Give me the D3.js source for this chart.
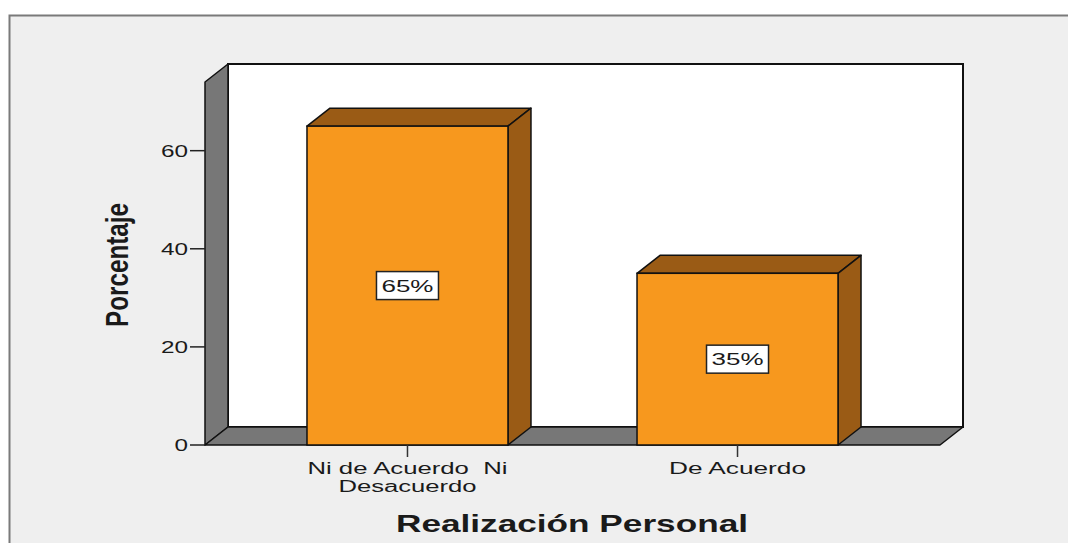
<!DOCTYPE html>
<html>
<head>
<meta charset="utf-8">
<script src="https://cdn.jsdelivr.net/npm/d3@7"></script>
<style>
  html, body { margin: 0; padding: 0; background: #ffffff; }
  svg { display: block; }
  text { font-family: "Liberation Sans", Arial, sans-serif; fill: #1a1a1a; }
</style>
</head>
<body>
<svg id="chart"></svg>
<script>
// chart data
var categories = ["Ni de Acuerdo  Ni|Desacuerdo", "De Acuerdo"];
var values = [65, 35];
var valueLabels = ["65%", "35%"];
var yTicks = [0, 20, 40, 60];
var yTitle = "Porcentaje";
var xTitle = "Realización Personal";

// set the SVG dimensions
var width = 1068;
var height = 543;

// front plane of the 3d box and its depth offset
var plotLeft = 205, plotRight = 940, plotBottom = 445, plotTop = 82;
var depthX = 23, depthY = 18;
var yMax = 74;

var colors = {
    bg: "#efefef",
    wall: "#777777",
    front: "#f7981e",
    shade: "#9a5b15"
};

var svg = d3.select("#chart")
    .attr("width", width)
    .attr("height", height);

var yScale = d3.scaleLinear()
    .domain([0, yMax])
    .range([plotBottom, plotTop]);

var xScale = d3.scaleBand()
    .domain(categories)
    .range([plotLeft, plotRight])
    .paddingInner(0.391)
    .paddingOuter(0.309);

// outer panel
svg.append("rect")
    .attr("x", 9.5).attr("y", 15.5)
    .attr("width", width + 20).attr("height", height + 20)
    .attr("fill", colors.bg)
    .attr("stroke", "#7a7a7a")
    .attr("stroke-width", 2);

var yTop = yScale(yMax);

// back wall
svg.append("rect")
    .attr("x", plotLeft + depthX).attr("y", yTop - depthY)
    .attr("width", plotRight - plotLeft).attr("height", plotBottom - yTop)
    .attr("fill", "#ffffff")
    .attr("stroke", "#111")
    .attr("stroke-width", 2);

// left wall
svg.append("path")
    .attr("d", `M${plotLeft},${plotBottom} L${plotLeft},${yTop} L${plotLeft + depthX},${yTop - depthY} L${plotLeft + depthX},${plotBottom - depthY} Z`)
    .attr("fill", colors.wall)
    .attr("stroke", "#111")
    .attr("stroke-width", 1.5)
    .attr("stroke-linejoin", "round");

// floor
svg.append("path")
    .attr("d", `M${plotLeft},${plotBottom} L${plotRight},${plotBottom} L${plotRight + depthX},${plotBottom - depthY} L${plotLeft + depthX},${plotBottom - depthY} Z`)
    .attr("fill", colors.wall)
    .attr("stroke", "#111")
    .attr("stroke-width", 1.5)
    .attr("stroke-linejoin", "round");

// bars
var bars = svg.selectAll("g.bar")
    .data(categories.map((c, i) => ({cat: c, value: values[i], label: valueLabels[i]})))
    .enter()
    .append("g")
    .attr("class", "bar");

bars.append("path") // top
    .attr("d", d => {
        var x0 = xScale(d.cat), x1 = x0 + xScale.bandwidth(), y = yScale(d.value);
        return `M${x0},${y} L${x0 + depthX},${y - depthY} L${x1 + depthX},${y - depthY} L${x1},${y} Z`;
    })
    .attr("fill", colors.shade)
    .attr("stroke", "#111")
    .attr("stroke-width", 1.5)
    .attr("stroke-linejoin", "round");

bars.append("path") // side
    .attr("d", d => {
        var x1 = xScale(d.cat) + xScale.bandwidth(), y = yScale(d.value);
        return `M${x1},${y} L${x1 + depthX},${y - depthY} L${x1 + depthX},${plotBottom - depthY} L${x1},${plotBottom} Z`;
    })
    .attr("fill", colors.shade)
    .attr("stroke", "#111")
    .attr("stroke-width", 1.5)
    .attr("stroke-linejoin", "round");

bars.append("rect") // front
    .attr("x", d => xScale(d.cat))
    .attr("y", d => yScale(d.value))
    .attr("width", xScale.bandwidth())
    .attr("height", d => plotBottom - yScale(d.value))
    .attr("fill", colors.front)
    .attr("stroke", "#111")
    .attr("stroke-width", 1.5);

// value labels in boxes
bars.each(function(d) {
    var g = d3.select(this);
    var cx = xScale(d.cat) + xScale.bandwidth() / 2;
    var cy = (yScale(d.value) + plotBottom) / 2;
    g.append("rect")
        .attr("x", cx - 31).attr("y", cy - 14)
        .attr("width", 62).attr("height", 28)
        .attr("fill", "#ffffff")
        .attr("stroke", "#222")
        .attr("stroke-width", 1.5);
    g.append("text")
        .attr("x", cx).attr("y", cy + 6)
        .attr("text-anchor", "middle")
        .attr("font-size", 16)
        .attr("textLength", 52)
        .attr("lengthAdjust", "spacingAndGlyphs")
        .text(d.label);
});

// y axis ticks
var yAxis = svg.append("g");
yTicks.forEach(function(t) {
    yAxis.append("line")
        .attr("x1", plotLeft - 15).attr("x2", plotLeft)
        .attr("y1", yScale(t)).attr("y2", yScale(t))
        .attr("stroke", "#222").attr("stroke-width", 1.5);
    yAxis.append("text")
        .attr("x", plotLeft - 17).attr("y", yScale(t) + 6)
        .attr("text-anchor", "end")
        .attr("font-size", 16)
        .attr("textLength", String(t).length * 13.5)
        .attr("lengthAdjust", "spacingAndGlyphs")
        .text(t);
});

// x axis ticks and labels
var lineWidths = {"Ni de Acuerdo  Ni": 200, "Desacuerdo": 138, "De Acuerdo": 137};
categories.forEach(function(c) {
    var cx = xScale(c) + xScale.bandwidth() / 2;
    svg.append("line")
        .attr("x1", cx).attr("x2", cx)
        .attr("y1", plotBottom).attr("y2", plotBottom + 12)
        .attr("stroke", "#333").attr("stroke-width", 1.5);
    c.split("|").forEach(function(line, i) {
        svg.append("text")
            .attr("x", cx).attr("y", 474 + i * 18)
            .attr("text-anchor", "middle")
            .attr("font-size", 16)
            .style("white-space", "pre")
            .attr("textLength", lineWidths[line])
            .attr("lengthAdjust", "spacingAndGlyphs")
            .text(line);
    });
});

// axis titles
svg.append("text")
    .attr("transform", "translate(128,265) scale(1.3,1) rotate(-90)")
    .attr("text-anchor", "middle")
    .attr("font-size", 24)
    .attr("font-weight", "bold")
    .attr("fill", "#000")
    .attr("textLength", 124)
    .attr("lengthAdjust", "spacingAndGlyphs")
    .text(yTitle);

svg.append("text")
    .attr("x", 572).attr("y", 532)
    .attr("text-anchor", "middle")
    .attr("font-size", 24)
    .attr("font-weight", "bold")
    .attr("fill", "#000")
    .attr("textLength", 352)
    .attr("lengthAdjust", "spacingAndGlyphs")
    .text(xTitle);
</script>
</body>
</html>
